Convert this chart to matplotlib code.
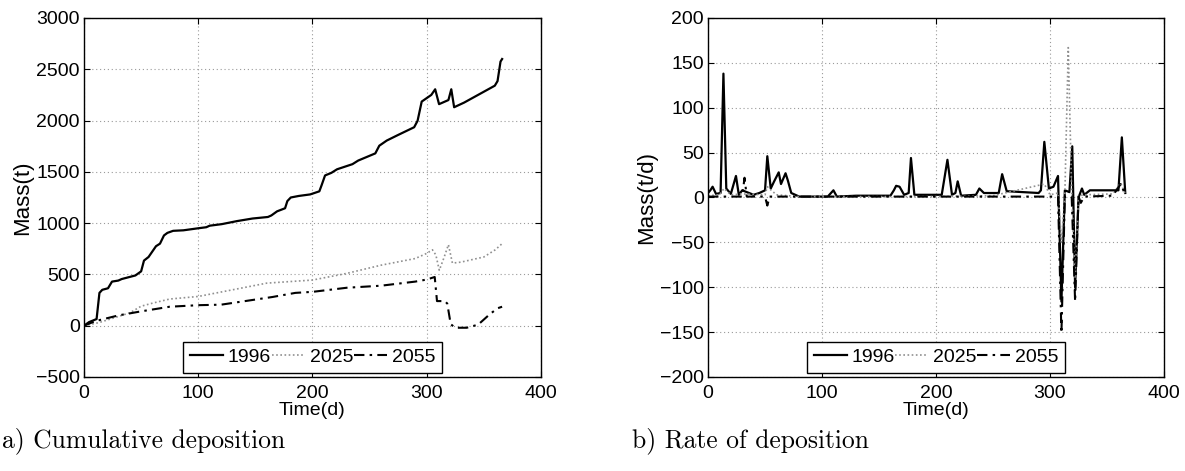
import matplotlib
matplotlib.use("Agg")
import matplotlib.pyplot as plt

# cumulative deposition (t)
t_1996 = [0, 4.4, 11, 13.5, 16, 21, 24.5, 30, 33, 45, 50, 52.5, 56.5, 63, 66.5, 70, 73, 78, 87,
          100, 107, 110, 120.5, 134, 147.5, 161, 164, 169, 176, 178, 181, 188, 198, 206, 208,
          211, 216.5, 221.5, 235, 240, 255, 258.5, 265, 275, 289, 292, 295.6, 304, 307.4,
          310.8, 319, 321.5, 324, 332.7, 359.6, 362, 364.6, 366]
m_1996 = [0, 35, 65, 320, 350, 365, 430, 440, 455, 490, 530, 635, 670, 775, 800, 880, 905, 925, 930,
          950, 960, 975, 990, 1020, 1045, 1060, 1075, 1115, 1145, 1215, 1250, 1265, 1280, 1310, 1370,
          1465, 1490, 1525, 1575, 1610, 1680, 1755, 1805, 1860, 1935, 1998, 2185, 2250, 2305,
          2160, 2200, 2305, 2130, 2175, 2340, 2385, 2575, 2600]

t_2025 = [0, 13, 40, 50, 60, 75, 100, 130, 160, 200, 230, 260, 290, 300, 305, 308, 311,
          315, 319, 322.5, 330, 350, 360, 366]
m_2025 = [0, 30, 125, 190, 220, 260, 285, 350, 415, 445, 510, 590, 655, 705, 740, 690, 540,
          660, 790, 610, 620, 670, 740, 800]

t_2055 = [0, 10, 30, 50, 75, 100, 120, 150, 165, 185, 200, 230, 260, 290, 300, 307, 309,
          316, 318, 321, 325, 335, 345, 355, 362, 366]
m_2055 = [0, 45, 100, 140, 185, 200, 205, 255, 280, 320, 330, 370, 390, 430, 450, 475, 240,
          240, 215, 15, -20, -20, 10, 110, 170, 185]

# rate of deposition (t/d)
tr_1996 = [0, 2, 4, 7, 11, 13.5, 16, 20, 24.5, 27, 30, 40, 45, 50, 52, 55, 58, 62, 64, 68, 70,
           73, 80, 105, 110, 113, 130, 160, 163, 165, 168, 172, 176, 178, 181, 200, 205, 210,
           214, 217, 219, 222, 235, 238, 242, 255, 258, 262, 290, 292, 295, 299, 303, 307, 310,
           313, 317, 319.5, 322, 325, 328, 330, 335, 360, 363, 366]
r_1996 = [5, 8, 12, 4, 5, 138, 10, 4, 24, 3, 8, 3, 5, 8, 46, 10, 18, 28, 15, 27, 19,
          5, 1, 1, 8, 1, 2, 2, 8, 13, 12, 3, 5, 44, 3, 3, 3, 42,
          3, 5, 18, 2, 3, 10, 5, 5, 26, 7, 5, 8, 62, 10, 12, 24, -116,
          8, 6, 57, -100, 0, 10, 3, 8, 8, 67, 5]

tr_2025 = [0, 10, 14, 20, 30, 50, 52, 60, 80, 150, 200, 250, 295, 300, 307, 310, 313, 316,
           319, 322, 325, 330, 355, 362, 366]
r_2025 = [2, 3, 10, 3, 4, 3, 12, 3, 1, 1, 1, 2, 15, 3, 5, -50, 3, 167,
          5, -90, 2, 3, 4, 16, 4]

tr_2055 = [0, 20, 30, 32, 34, 50, 52, 54, 80, 200, 300, 307, 310, 313, 319, 322, 325, 327,
           330, 355, 362, 366]
r_2055 = [1, 1, 1, 22, 1, 1, -9, 1, 1, 1, 1, 1, -151, 1, 1, -116, 1, -6,
          1, 2, 15, 3]

plt.rcParams['font.family'] = ['Liberation Sans', 'DejaVu Sans']

fig = plt.figure(figsize=(11.85, 4.71), dpi=100, facecolor='white')
ax1 = fig.add_axes([0.0709, 0.1996, 0.3856, 0.7622])
ax2 = fig.add_axes([0.5975, 0.1996, 0.3848, 0.7622])

styles = dict(
    s1996=dict(color='black', linestyle='-', linewidth=1.6),
    s2025=dict(color='#909090', linestyle=(0, (1, 1.5)), linewidth=1.2),
    s2055=dict(color='black', linestyle=(0, (5, 2.5, 1.2, 2.5)), linewidth=1.5),
)


def style_axes(ax, ylim, yticks, ylabel):
    ax.set_xlim(0, 400)
    ax.set_ylim(*ylim)
    ax.set_xticks([0, 100, 200, 300, 400])
    ax.set_yticks(yticks)
    ax.grid(True, color='#9a9a9a', linestyle=(0, (1, 2.5)), linewidth=0.8)
    ax.tick_params(direction='in', top=True, right=True, length=4, width=0.8,
                   labelsize=14)
    ax.tick_params(axis='x', pad=6)
    ax.tick_params(axis='y', pad=3)
    for s in ax.spines.values():
        s.set_linewidth(1.0)
    ax.set_xlabel('Time(d)', fontsize=14, labelpad=0)
    ax.set_ylabel(ylabel, fontsize=16, labelpad=2)
    ax.legend(['1996', '2025', '2055'], ncol=3, loc='lower left',
              bbox_to_anchor=(0.2166, 0.011, 0.567, 0.08), mode='expand',
              fontsize=14, frameon=True, fancybox=False, edgecolor='black',
              framealpha=1, handlelength=1.7, handletextpad=0.25,
              columnspacing=0.2, borderpad=0.35, borderaxespad=0)
    ax.get_legend().get_frame().set_linewidth(1.0)


ax1.plot(t_1996, m_1996, **styles['s1996'])
ax1.plot(t_2025, m_2025, **styles['s2025'])
ax1.plot(t_2055, m_2055, **styles['s2055'])
style_axes(ax1, (-500, 3000), list(range(-500, 3001, 500)), 'Mass(t)')

ax2.plot(tr_1996, r_1996, **styles['s1996'])
ax2.plot(tr_2025, r_2025, **styles['s2025'])
ax2.plot(tr_2055, r_2055, **styles['s2055'])
style_axes(ax2, (-200, 200), list(range(-200, 201, 50)), 'Mass(t/d)')

fig.text(0.002, 0.051, 'a) Cumulative deposition', fontsize=18.4, family='cmr10')
fig.text(632 / 1185, 0.051, 'b) Rate of deposition', fontsize=18.4, family='cmr10')

fig.savefig('out.png', dpi=100)
